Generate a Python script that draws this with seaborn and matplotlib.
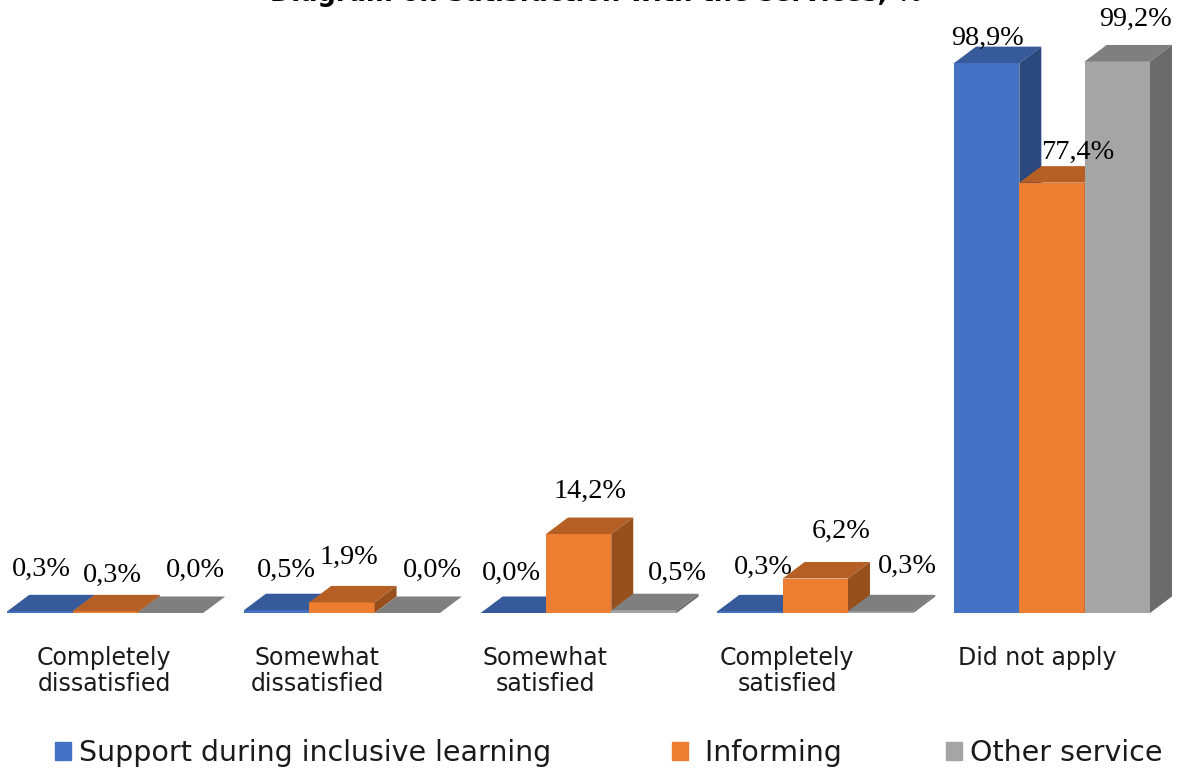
import pandas as pd
import matplotlib
matplotlib.use("Agg")
import matplotlib.pyplot as plt
import seaborn as sns
from matplotlib.patches import Patch, Polygon

# Satisfaction with the services, %
categories = ["Completely\ndissatisfied", "Somewhat\ndissatisfied", "Somewhat\nsatisfied",
              "Completely\nsatisfied", "Did not apply"]
series_names = ["Support during inclusive learning", "Informing", "Other service"]
support = [0.3, 0.5, 0.0, 0.3, 98.9]
informing = [0.3, 1.9, 14.2, 6.2, 77.4]
other = [0.0, 0.0, 0.5, 0.3, 99.2]

W, H = 1179, 769
base_px = 613
px_per_unit = 5.56

front = ["#4472C4", "#ED7D31", "#A5A5A5"]
top_col = ["#375B9A", "#B55F24", "#7F7F7F"]
side_col = ["#2B487F", "#97501D", "#6B6B6B"]

sns.set_style("white")
plt.rcParams["font.family"] = ["DejaVu Sans"]

df = pd.DataFrame({"category": categories * 3,
                   "series": [s for s in series_names for _ in categories],
                   "value": support + informing + other})

fig = plt.figure(figsize=(W / 100, H / 100), dpi=100)
ax = fig.add_axes([0, (H - base_px) / H, 1, base_px / H])

sns.barplot(data=df, x="category", y="value", hue="series", order=categories,
            hue_order=series_names, palette=front, width=0.828, gap=0,
            saturation=1, legend=False, ax=ax)

# 236.7 px between groups, first group centred on 105.2 px
ax.set_xlim(-105.2 / 236.7, (W - 105.2) / 236.7)
ax.set_ylim(0, base_px / px_per_unit)
ax.axis("off")


def px(x, y):
    return x / W, 1 - y / H


# fake 3D: a top and a side face on every bar, offsets in pixels
dx = 22 / 236.7
dy = 16.5 / px_per_unit
for i, bar in enumerate(ax.patches):
    s = i // len(categories)
    x0, w, h = bar.get_x(), bar.get_width(), bar.get_height()
    z = 3 + x0 * 3
    bar.set_zorder(z)
    bar.set_linewidth(0)
    bar.set_clip_on(False)
    ax.add_patch(Polygon([(x0, h), (x0 + w, h), (x0 + w + dx, h + dy), (x0 + dx, h + dy)],
                         facecolor=top_col[s], lw=0, zorder=z, clip_on=False))
    ax.add_patch(Polygon([(x0 + w, 0), (x0 + w + dx, dy), (x0 + w + dx, h + dy), (x0 + w, h)],
                         facecolor=side_col[s], lw=0, zorder=z, clip_on=False))

# value labels sit where the original chart had them, not on the bars
values = support + informing + other
label_px = [(41, 569), (286, 570), (511, 573), (763, 567), (987, 38),
            (112, 575), (349, 557), (590, 491), (841, 531), (1078, 152),
            (195, 570), (432, 570), (677, 573), (907, 566), (1135, 19)]
for v, (lx, ly) in zip(values, label_px):
    fx, fy = px(lx, ly)
    fig.text(fx, fy, f"{v:.1f}%".replace(".", ","), ha="center", va="center",
             fontsize=20.3, family="Liberation Serif", color="black", zorder=20)

cat_px = [104, 317, 545, 787, 1037]
for c, cx in zip(categories, cat_px):
    fx, fy = px(cx, 671 if "\n" in c else 658)
    fig.text(fx, fy, c, ha="center", va="center", fontsize=17, linespacing=1.1, color="#1a1a1a")

fx, fy = px(596, -6.4)
fig.text(fx, fy, "Diagram on Satisfaction with the services, %", ha="center", va="center",
         fontsize=18.5, fontweight="bold", color="black")

# legend entries are unevenly spaced in the reference, so one legend per entry
legend_x = [55, 672, 946]
legend_labels = [series_names[0], " " + series_names[1], series_names[2]]
for name, col, lx in zip(legend_labels, front, legend_x):
    fig.legend(handles=[Patch(color=col, label=name)], loc="center left",
               bbox_to_anchor=px(lx, 753), frameon=False, fontsize=20.5,
               handlelength=0.56, handleheight=0.56, handletextpad=0.3,
               borderpad=0, borderaxespad=0, labelcolor="#1a1a1a")

fig.savefig("out.png", dpi=100)
